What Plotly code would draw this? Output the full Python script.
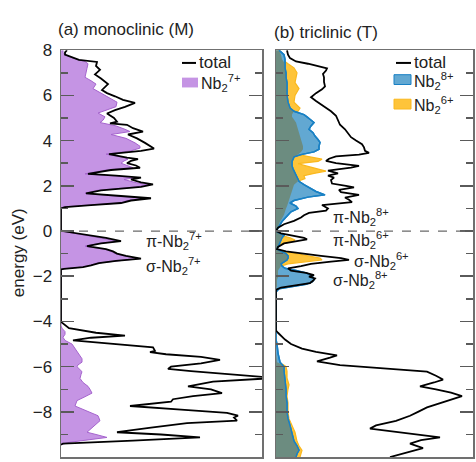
import plotly.graph_objects as go
import numpy as np

# ---------------- data (energy in eV, DOS in arbitrary units) ----------------
# (a) monoclinic: total DOS
M_E_total = [8.0, 7.9, 7.8, 7.65, 7.57, 7.48, 7.3, 7.13, 6.93, 6.75, 6.5, 6.24, 6.1, 5.96, 5.8, 5.67,
             5.49, 5.35, 5.2, 5.0, 4.84, 4.76, 4.7, 4.55, 4.4, 4.27, 4.1, 3.9, 3.75, 3.65, 3.55, 3.4,
             3.25, 3.18, 3.1, 3.0, 2.9, 2.8, 2.7, 2.53, 2.45, 2.36, 2.28, 2.15, 2.06, 1.95, 1.8, 1.67,
             1.55, 1.45, 1.35, 1.24, 1.15, 1.06, 1.0,
             0.05, 0.0, -0.15, -0.3, -0.45, -0.55, -0.67, -0.8, -0.9, -1.0, -1.1, -1.22, -1.32, -1.42,
             -1.52, -1.6, -1.67, -1.7,
             -4.0, -4.05, -4.3, -4.5, -4.63, -4.72, -4.84, -5.0, -5.14, -5.3, -5.36, -5.45, -5.57,
             -5.7, -5.85, -6.0, -6.1, -6.2, -6.35, -6.5, -6.66, -6.87, -7.0, -7.17, -7.3, -7.44,
             -7.55, -7.74, -7.9, -8.04, -8.17, -8.25, -8.39, -8.5, -8.7, -8.9, -9.0, -9.13, -9.27,
             -9.35, -9.4, -9.45]
M_total = [0.6, 0.4, 0.4, 1.2, 1.8, 3.6, 3.5, 3.9, 3.4, 4.0, 4.7, 4.1, 4.6, 5.4, 6.2, 7.4,
           6.4, 5.4, 4.6, 5.3, 5.6, 4.9, 6.6, 7.2, 8.2, 6.7, 7.6, 8.4, 9.0, 9.3, 8.0, 4.8,
           6.6, 7.7, 7.0, 6.6, 7.5, 7.9, 5.0, 2.7, 5.5, 8.0, 7.0, 8.0, 9.2, 8.0, 4.0, 2.5,
           6.0, 9.0, 7.0, 6.0, 3.0, 0.4, 0.0,
           0.0, 0.1, 2.2, 4.5, 6.0, 4.0, 2.6, 4.5, 5.2, 5.6, 6.5, 8.0, 5.5, 3.8,
           3.0, 2.2, 0.3, 0.0,
           0.0, 0.1, 0.8, 3.5, 6.4, 3.0, 1.2, 5.5, 9.2, 9.4, 8.9, 10.5, 14.0,
           15.9, 14.0, 11.0, 10.7, 13.0, 17.0, 21.5, 15.2, 12.7, 15.0, 16.1, 13.2, 11.2,
           11.0, 6.9, 12.0, 16.6, 17.7, 17.3, 17.6, 12.6, 9.0, 5.6, 10.0, 13.9, 7.2,
           3.0, 0.2, 0.0]

# (a) monoclinic: Nb2(7+) projected DOS
M_E_nb7 = [8.0, 7.9, 7.8, 7.65, 7.5, 7.4, 7.2, 7.0, 6.8, 6.65, 6.5, 6.3, 6.1, 5.88, 5.7, 5.5,
           5.35, 5.22, 5.05, 4.9, 4.8, 4.65, 4.5, 4.4, 4.27, 4.1, 3.9, 3.75, 3.67, 3.55, 3.4,
           3.25, 3.18, 3.1, 3.0, 2.9, 2.8, 2.7, 2.53, 2.45, 2.36, 2.28, 2.15, 2.04, 1.95, 1.8,
           1.67, 1.55, 1.45, 1.35, 1.24, 1.15, 1.06, 1.0,
           0.05, 0.0, -0.15, -0.3, -0.45, -0.55, -0.67, -0.8, -0.9, -1.0, -1.1, -1.22, -1.32,
           -1.42, -1.52, -1.6, -1.67, -1.7,
           -4.2, -4.3, -4.45, -4.57, -4.7, -4.84, -5.0, -5.2, -5.35, -5.5, -5.65, -5.8, -5.92,
           -6.0, -6.1, -6.22, -6.35, -6.52, -6.7, -6.87, -7.0, -7.17, -7.35, -7.5, -7.74, -7.96,
           -8.17, -8.39, -8.6, -8.75, -8.9, -9.0, -9.13, -9.25, -9.35, -9.45]
M_nb7 = [0.2, 0.2, 0.4, 1.2, 2.4, 2.7, 2.6, 2.5, 2.4, 3.0, 3.5, 3.2, 4.0, 5.0, 5.6, 5.5,
         4.5, 3.7, 4.4, 4.2, 3.9, 5.5, 6.4, 6.9, 5.0, 6.5, 7.4, 7.9, 7.9, 7.0, 4.5,
         6.3, 6.7, 6.3, 6.0, 6.6, 7.2, 4.5, 2.4, 5.0, 7.4, 6.3, 7.4, 8.7, 7.5, 3.6,
         2.4, 5.5, 8.5, 6.6, 6.0, 2.8, 0.2, 0.0,
         0.0, 0.1, 2.0, 4.2, 5.7, 3.8, 2.4, 4.3, 5.0, 5.4, 6.3, 7.8, 5.3,
         3.6, 2.9, 2.0, 0.2, 0.0,
         0.0, 0.1, 0.4, 0.4, 0.2, 0.4, 1.1, 1.4, 1.6, 1.9, 2.1, 2.1, 1.7,
         1.6, 1.8, 2.1, 2.0, 1.9, 2.2, 2.7, 2.9, 3.1, 2.3, 1.6, 1.4, 2.6,
         3.7, 3.9, 3.4, 3.0, 2.6, 3.5, 4.6, 2.5, 0.8, 0.0]

# (b) triclinic: total DOS
T_E_total = [8.0, 7.8, 7.65, 7.5, 7.4, 7.3, 7.2, 7.1, 6.95, 6.8, 6.6, 6.4, 6.27, 6.1, 5.92, 5.75,
             5.5, 5.3, 5.1, 4.9, 4.7, 4.5, 4.3, 4.15, 4.0, 3.84, 3.7, 3.55, 3.46, 3.38, 3.3, 3.2,
             3.1, 3.0, 2.88, 2.8, 2.67, 2.55, 2.45, 2.36, 2.25, 2.1, 2.0, 1.93, 1.82, 1.72, 1.6,
             1.48, 1.38, 1.28, 1.15, 1.0, 0.9, 0.8, 0.7, 0.6, 0.45, 0.3, 0.15, 0.0,
             -0.1, -0.2, -0.3, -0.37, -0.45, -0.55, -0.7, -0.8, -0.9, -1.0, -1.1, -1.2, -1.28,
             -1.35, -1.45, -1.55, -1.65, -1.75, -1.85, -1.95, -2.02, -2.1, -2.2, -2.3, -2.4,
             -2.5, -2.6,
             -4.4, -4.5, -4.8, -5.0, -5.2, -5.35, -5.5, -5.6, -5.77, -5.93, -6.08, -6.22, -6.4,
             -6.57, -6.7, -6.87, -7.0, -7.15, -7.3, -7.5, -7.8, -8.0, -8.17, -8.4, -8.6, -8.74,
             -8.85, -9.0, -9.13, -9.25, -9.4, -9.6, -9.8, -10.0]
T_total = [1.1, 1.2, 1.4, 2.0, 3.2, 4.2, 5.1, 5.0, 4.7, 4.8, 4.8, 4.9, 4.6, 4.0, 3.5, 4.0,
           4.8, 5.5, 6.0, 6.2, 6.4, 6.9, 7.2, 7.5, 8.0, 8.6, 8.8, 8.9, 9.3, 8.3, 6.0, 5.3,
           5.0, 6.0, 8.3, 7.5, 5.2, 6.2, 5.2, 5.8, 5.5, 5.6, 7.0, 7.8, 6.3, 6.5, 8.3,
           6.9, 7.3, 7.6, 4.6, 5.2, 5.0, 3.3, 2.8, 2.5, 1.8, 0.8, 0.2, 0.0,
           0.5, 1.8, 2.8, 3.1, 2.0, 0.8, 0.2, 0.1, 1.0, 2.5, 4.5, 6.5, 7.3,
           5.5, 3.5, 2.5, 1.2, 1.5, 3.0, 3.8, 3.3, 3.9, 3.7, 3.4, 1.8,
           0.5, 0.0,
           0.0, 0.2, 0.9, 1.5, 2.6, 4.0, 6.1, 5.4, 4.1, 6.4, 11.4, 15.1, 16.0,
           16.7, 15.8, 14.4, 16.0, 17.5, 18.6, 17.1, 15.1, 14.2, 13.4, 12.0, 10.0, 9.4,
           11.5, 14.0, 16.4, 14.5, 13.4, 14.7, 13.0, 11.4]

# (b) triclinic: Nb2(8+) and Nb2(6+) projected DOS (common energy grid)
T_E_ions = [8.0, 7.8, 7.6, 7.4, 7.22, 7.0, 6.8, 6.57, 6.3, 6.0, 5.7, 5.44, 5.3, 5.15, 5.05, 4.9,
            4.8, 4.65, 4.5, 4.35, 4.2, 4.05, 3.92, 3.75, 3.62, 3.5, 3.38, 3.28, 3.18, 3.08, 2.98,
            2.88, 2.75, 2.65, 2.55, 2.45, 2.32, 2.2, 2.05, 1.9, 1.75, 1.6, 1.5, 1.35, 1.24, 1.1,
            1.0, 0.85, 0.72, 0.55, 0.42, 0.2, 0.0,
            -0.1, -0.2, -0.3, -0.4, -0.5, -0.6, -0.8, -0.9, -1.0, -1.1, -1.2, -1.28, -1.35,
            -1.45, -1.55, -1.65, -1.75, -1.85, -1.95, -2.05, -2.15, -2.25, -2.35, -2.45, -2.55,
            -2.7,
            -4.8, -5.0, -5.4, -5.8, -5.9, -6.0, -6.2, -6.5, -6.8, -7.0, -7.3, -7.6, -8.0, -8.3,
            -8.6, -8.9, -9.1, -9.3, -9.5, -9.7, -9.85, -10.0]
T_nb8 = [0.3, 0.8, 0.9, 0.9, 0.9, 1.0, 1.0, 1.1, 1.1, 1.1, 1.2, 1.4, 1.8, 2.8, 3.1, 3.6,
         3.8, 3.5, 3.3, 3.7, 3.9, 4.2, 4.4, 4.3, 4.3, 3.8, 2.5, 1.8, 1.7, 1.6, 1.6,
         1.6, 1.7, 1.8, 1.9, 2.0, 2.1, 2.3, 2.8, 3.4, 4.0, 4.9, 3.2, 1.8, 1.4, 2.0,
         2.2, 1.5, 1.2, 0.8, 0.6, 0.3, 0.0,
         0.4, 0.8, 0.6, 0.5, 0.4, 0.3, 0.1, 0.5, 1.0, 1.2, 1.2, 1.1, 0.8,
         0.5, 0.6, 0.9, 2.0, 3.0, 3.5, 3.7, 3.8, 3.6, 3.0, 1.5, 0.3,
         0.0,
         0.0, 0.1, 0.2, 0.4, 0.6, 0.8, 0.8, 0.9, 1.0, 1.0, 1.0, 1.1, 1.1, 1.2,
         1.4, 1.6, 1.7, 1.8, 2.1, 2.3, 2.1, 2.0]
T_nb6 = [0.4, 0.5, 0.6, 1.2, 1.8, 2.1, 2.0, 1.9, 2.3, 1.9, 1.8, 2.4, 2.2, 1.6, 1.6, 1.8,
         2.0, 2.1, 2.2, 2.3, 2.4, 2.5, 2.6, 2.7, 2.7, 2.5, 2.2, 3.5, 4.6, 4.2, 2.2,
         3.0, 4.2, 5.0, 3.8, 2.8, 2.9, 2.2, 1.8, 1.7, 1.6, 1.5, 1.4, 1.3, 1.2, 1.1,
         1.0, 0.9, 0.8, 0.6, 0.4, 0.2, 0.0,
         0.2, 0.6, 1.4, 1.9, 1.2, 0.4, 0.1, 0.8, 2.0, 3.2, 4.4, 4.6, 3.0,
         1.2, 0.5, 0.3, 0.2, 0.2, 0.2, 0.2, 0.1, 0.1, 0.1, 0.1, 0.0,
         0.0,
         0.0, 0.0, 0.0, 0.1, 0.7, 1.0, 1.1, 1.1, 1.3, 1.2, 1.1, 1.2, 1.2, 1.3,
         1.6, 1.9, 2.0, 2.1, 2.3, 2.6, 2.5, 2.4]

# ---------------- styling ----------------
W, H = 476, 462
FONT = "Liberation Sans, Arial, Helvetica, sans-serif"
TXT = "#222222"
PURPLE_FILL = "rgb(197,148,228)"
PURPLE_LINE = "rgb(165,100,205)"
BLUE_FILL = "rgb(98,168,210)"
BLUE_LINE = "rgb(25,128,196)"
ORANGE_FILL = "rgb(254,196,58)"
ORANGE_LINE = "rgb(250,184,30)"
OVERLAP = "rgb(108,140,128)"
FRAME = "#707070"


def pxx(x):
    return x / W


def pyy(y):
    return 1 - y / H


fig = go.Figure()

# left panel
fig.add_trace(go.Scatter(x=M_nb7, y=M_E_nb7, mode="lines", fill="tozerox",
                         fillcolor=PURPLE_FILL, line=dict(color=PURPLE_LINE, width=1),
                         xaxis="x", yaxis="y", showlegend=False, hoverinfo="skip"))
fig.add_trace(go.Scatter(x=M_total, y=M_E_total, mode="lines",
                         line=dict(color="black", width=1.8),
                         xaxis="x", yaxis="y", showlegend=False, hoverinfo="skip"))

# right panel
overlap = np.minimum(np.array(T_nb8), np.array(T_nb6))
fig.add_trace(go.Scatter(x=T_nb6, y=T_E_ions, mode="lines", fill="tozerox",
                         fillcolor=ORANGE_FILL, line=dict(color=ORANGE_LINE, width=1.2),
                         xaxis="x2", yaxis="y2", showlegend=False, hoverinfo="skip"))
fig.add_trace(go.Scatter(x=T_nb8, y=T_E_ions, mode="lines", fill="tozerox",
                         fillcolor=BLUE_FILL, line=dict(color=BLUE_LINE, width=1.5),
                         xaxis="x2", yaxis="y2", showlegend=False, hoverinfo="skip"))
fig.add_trace(go.Scatter(x=overlap, y=T_E_ions, mode="lines", fill="tozerox",
                         fillcolor=OVERLAP, line=dict(color=OVERLAP, width=0),
                         xaxis="x2", yaxis="y2", showlegend=False, hoverinfo="skip"))
fig.add_trace(go.Scatter(x=T_nb8, y=T_E_ions, mode="lines",
                         line=dict(color=BLUE_LINE, width=1.5),
                         xaxis="x2", yaxis="y2", showlegend=False, hoverinfo="skip"))
fig.add_trace(go.Scatter(x=T_total, y=T_E_total, mode="lines",
                         line=dict(color="black", width=1.8),
                         xaxis="x2", yaxis="y2", showlegend=False, hoverinfo="skip"))

ydom = [pyy(457), pyy(42)]
xcommon = dict(showline=True, mirror=True, linecolor=FRAME, linewidth=1.5,
               ticks="", showticklabels=False, showgrid=False, zeroline=False, fixedrange=True)
ycommon = dict(range=[-10, 8], domain=ydom, tick0=0, dtick=2, ticks="inside", ticklen=13,
               tickwidth=1.5, tickcolor="#5a5a5a", showline=True, mirror="ticks",
               linecolor=FRAME, linewidth=1.5, showgrid=False, zeroline=False,
               minor=dict(dtick=1, ticks="inside", ticklen=7, tickwidth=1.5, tickcolor="#5a5a5a"),
               tickfont=dict(family=FONT, size=17, color=TXT))

fig.update_layout(
    width=W, height=H,
    margin=dict(l=0, r=0, t=0, b=0),
    paper_bgcolor="white", plot_bgcolor="white",
    xaxis=dict(domain=[pxx(61), pxx(262)], range=[0, 20.1], anchor="y", **xcommon),
    xaxis2=dict(domain=[pxx(276), pxx(473)], range=[0, 19.7], anchor="y2", **xcommon),
    yaxis=dict(anchor="x", showticklabels=True, ticklabelstandoff=4, **ycommon),
    yaxis2=dict(anchor="x2", showticklabels=False, **ycommon),
)

shapes = []
for xr, yr in [("x domain", "y"), ("x2 domain", "y2")]:
    shapes.append(dict(type="line", xref=xr, yref=yr, x0=0, x1=1, y0=0, y1=0,
                       line=dict(color="#6a6a6a", width=1.3, dash="dash"), layer="above"))
# legend symbols
shapes.append(dict(type="line", xref="paper", yref="paper", x0=pxx(182), x1=pxx(196),
                   y0=pyy(55), y1=pyy(55), line=dict(color="black", width=2)))
shapes.append(dict(type="rect", xref="paper", yref="paper", x0=pxx(182), x1=pxx(198),
                   y0=pyy(80), y1=pyy(70), line=dict(width=0), fillcolor=PURPLE_FILL))
shapes.append(dict(type="line", xref="paper", yref="paper", x0=pxx(396), x1=pxx(411),
                   y0=pyy(55), y1=pyy(55), line=dict(color="black", width=2)))
shapes.append(dict(type="rect", xref="paper", yref="paper", x0=pxx(394), x1=pxx(411),
                   y0=pyy(77), y1=pyy(67), line=dict(color=BLUE_LINE, width=1), fillcolor=BLUE_FILL))
shapes.append(dict(type="rect", xref="paper", yref="paper", x0=pxx(394), x1=pxx(411),
                   y0=pyy(102), y1=pyy(92), line=dict(color=ORANGE_LINE, width=1), fillcolor=ORANGE_FILL))
fig.update_layout(shapes=shapes)


def ann(text, x, y, size=16, xanchor="left", yanchor="middle", angle=0):
    return dict(text=text, x=pxx(x), y=pyy(y), xref="paper", yref="paper",
                xanchor=xanchor, yanchor=yanchor, showarrow=False, textangle=angle,
                font=dict(family=FONT, size=size, color=TXT))


annotations = [
    ann("(a) monoclinic (M)", 126, 21, size=17, xanchor="center"),
    ann("(b) triclinic (T)", 326, 24, size=17, xanchor="center"),
    ann("energy (eV)", 18, 249, size=17, xanchor="center", angle=-90),
    ann("total", 197, 55, size=17),
    ann("Nb<sub>2</sub><sup>7+</sup>", 199, 75, size=16),
    ann("total", 412, 55, size=17),
    ann("Nb<sub>2</sub><sup>8+</sup>", 412, 73, size=16),
    ann("Nb<sub>2</sub><sup>6+</sup>", 412, 98, size=16),
    ann("π-Nb<sub>2</sub><sup>7+</sup>", 144, 237),
    ann("σ-Nb<sub>2</sub><sup>7+</sup>", 144, 262),
    ann("π-Nb<sub>2</sub><sup>8+</sup>", 331, 212),
    ann("π-Nb<sub>2</sub><sup>6+</sup>", 331, 236),
    ann("σ-Nb<sub>2</sub><sup>6+</sup>", 352, 257),
    ann("σ-Nb<sub>2</sub><sup>8+</sup>", 331, 276),
]
fig.update_layout(annotations=annotations)

fig.write_html("out.html", config={"displayModeBar": False, "staticPlot": True},
               post_script="document.body.style.margin='0px';")
